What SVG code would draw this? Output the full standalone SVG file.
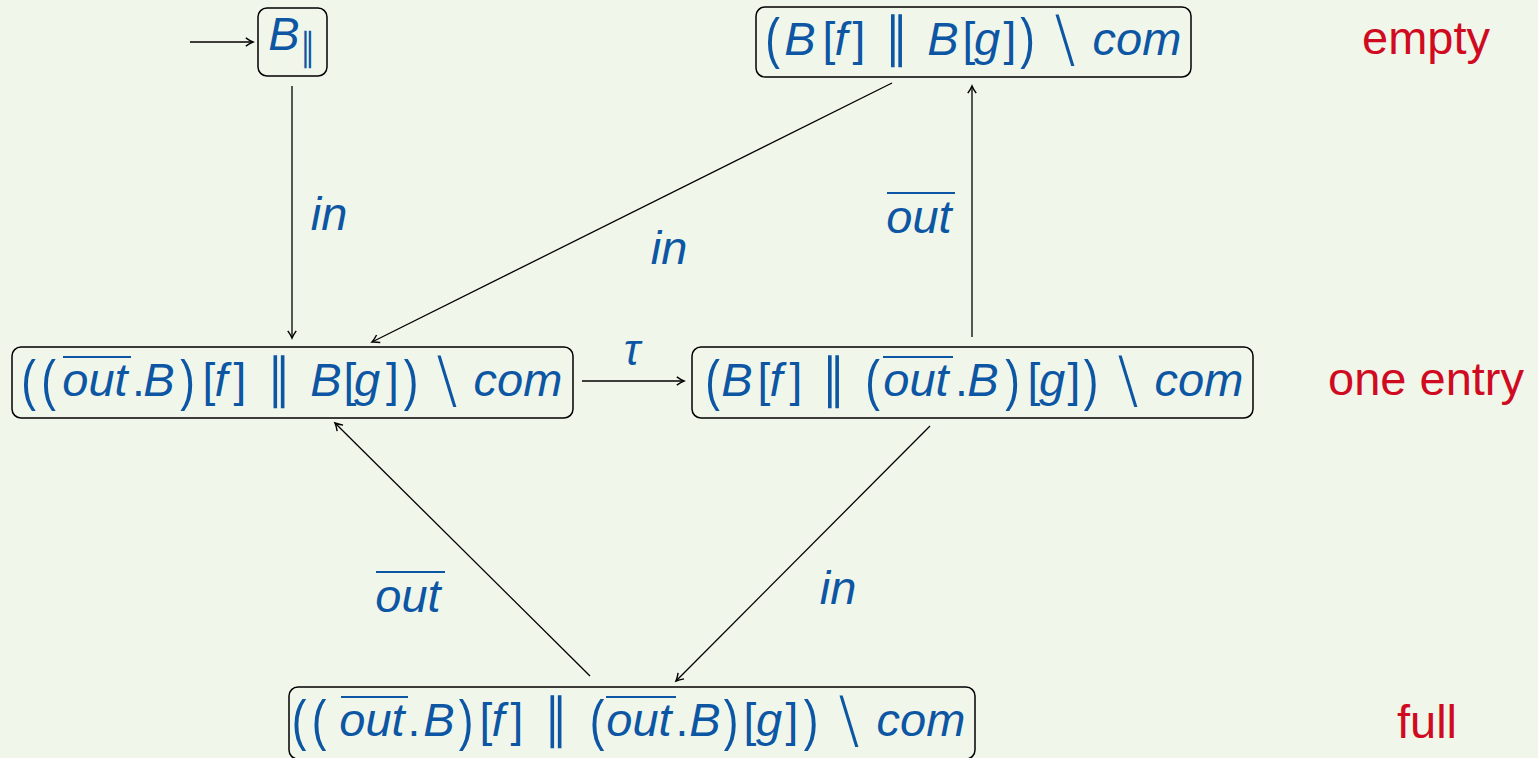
<svg xmlns="http://www.w3.org/2000/svg" width="1538" height="758" viewBox="0 0 1538 758">
<defs>
<marker id="ah" markerWidth="12" markerHeight="12" refX="0" refY="0" viewBox="-8 -5 10 10" orient="auto" markerUnits="userSpaceOnUse">
<path d="M -6 -3.5 Q -2.5 -1 0 0 Q -2.5 1 -6 3.5" fill="none" stroke="#000" stroke-width="1.2"/>
</marker>
<style>
.bg{fill:#f1f6eb}
.box{fill:none;stroke:#000;stroke-width:1.5}
.e{fill:none;stroke:#000;stroke-width:1.3;marker-end:url(#ah)}
text{fill:#0c56a4;text-anchor:middle}
.v{font-family:"Liberation Sans",Arial,sans-serif;font-style:italic;font-size:47px}
.p{font-family:"Liberation Sans",Arial,sans-serif;font-size:44px}
.k{font-family:"Liberation Sans",Arial,sans-serif;font-size:46px}
.s{font-family:"DejaVu Sans",sans-serif;font-weight:200;font-size:62px}
.par{font-family:"DejaVu Sans",sans-serif;font-size:54px}
.ov{stroke:#0c56a4;stroke-width:2}
.lab{font-family:"Liberation Sans",Arial,sans-serif;font-size:47px;fill:#cf0a21}
</style>
</defs>
<rect class="bg" x="0" y="0" width="1538" height="758"/>

<g id="connectors">
<line class="e" x1="190" y1="42" x2="253" y2="42"/>
<line class="e" x1="292" y1="86" x2="292" y2="338"/>
<line class="e" x1="892" y1="83" x2="372" y2="342"/>
<line class="e" x1="972" y1="337" x2="972" y2="86"/>
<line class="e" x1="582" y1="381" x2="684" y2="381"/>
<line class="e" x1="930" y1="426" x2="676" y2="681"/>
<line class="e" x1="590" y1="676" x2="335" y2="423"/>
<text class="v" x="329" y="230">in</text>
<text class="v" x="669" y="264">in</text>
<text class="v" x="919" y="233">out</text><line class="ov" x1="887" y1="193" x2="955" y2="193"/>
<text class="v" x="838" y="604">in</text>
<text class="v" x="408" y="612">out</text><line class="ov" x1="376" y1="572" x2="445" y2="572"/>
<text class="v" x="632" y="365" style="font-size:44px">τ</text>
</g>

<g id="n0">
<rect class="box" x="258" y="8" width="69" height="68" rx="9"/>
<text class="v" x="284" y="50">B</text>
<text class="par" transform="translate(307.5,60) scale(0.75,1)" style="font-size:38px">∥</text>
</g>

<g id="n1">
<rect class="box" x="756" y="7" width="435" height="70" rx="9"/>
<text class="p" transform="translate(772.5,57) scale(1,1.25)">(</text>
<text class="v" x="800" y="55">B</text>
<text class="k" x="829" y="55">[</text>
<text class="v" x="841" y="55">f</text>
<text class="k" x="859" y="55">]</text>
<text class="par" transform="translate(896.5,56) scale(0.85,1)">∥</text>
<text class="v" x="943" y="55">B</text>
<text class="k" x="969" y="55">[</text>
<text class="v" x="987" y="55">g</text>
<text class="k" x="1010" y="55">]</text>
<text class="p" transform="translate(1027.5,57) scale(1,1.25)">)</text>
<text class="s" x="1065" y="60">\</text>
<text class="v" x="1137" y="55">com</text>
</g>

<g id="n2">
<rect class="box" x="12" y="347" width="561" height="71" rx="9"/>
<text class="p" transform="translate(28.5,399) scale(1,1.25)">(</text>
<text class="p" transform="translate(48.5,399) scale(1,1.25)">(</text>
<text class="v" x="95" y="396">out</text><line class="ov" x1="63" y1="357" x2="131" y2="357"/>
<text class="k" x="138.5" y="396">.</text>
<text class="v" x="159" y="396">B</text>
<text class="p" transform="translate(187.5,399) scale(1,1.25)">)</text>
<text class="k" x="209" y="396">[</text>
<text class="v" x="221" y="396">f</text>
<text class="k" x="240" y="396">]</text>
<text class="par" transform="translate(279,397) scale(0.85,1)">∥</text>
<text class="v" x="326" y="396">B</text>
<text class="k" x="350" y="396">[</text>
<text class="v" x="367" y="396">g</text>
<text class="k" x="392.5" y="396">]</text>
<text class="p" transform="translate(411,399) scale(1,1.25)">)</text>
<text class="s" x="447" y="401">\</text>
<text class="v" x="518" y="396">com</text>
</g>

<g id="n3">
<rect class="box" x="692" y="347" width="561" height="71" rx="9"/>
<text class="p" transform="translate(712.5,399) scale(1,1.25)">(</text>
<text class="v" x="737" y="396">B</text>
<text class="k" x="764" y="396">[</text>
<text class="v" x="776" y="396">f</text>
<text class="k" x="796" y="396">]</text>
<text class="par" transform="translate(833.5,397) scale(0.85,1)">∥</text>
<text class="p" transform="translate(872.5,399) scale(1,1.25)">(</text>
<text class="v" x="916" y="396">out</text><line class="ov" x1="883" y1="357" x2="953" y2="357"/>
<text class="k" x="961.5" y="396">.</text>
<text class="v" x="983" y="396">B</text>
<text class="p" transform="translate(1012.5,399) scale(1,1.25)">)</text>
<text class="k" x="1034" y="396">[</text>
<text class="v" x="1052" y="396">g</text>
<text class="k" x="1074" y="396">]</text>
<text class="p" transform="translate(1091,399) scale(1,1.25)">)</text>
<text class="s" x="1128" y="401">\</text>
<text class="v" x="1199" y="396">com</text>
</g>

<g id="n4">
<rect class="box" x="289" y="687" width="686" height="72" rx="9"/>
<text class="p" transform="translate(299,739) scale(1,1.25)">(</text>
<text class="p" transform="translate(319,739) scale(1,1.25)">(</text>
<text class="v" x="372" y="736">out</text><line class="ov" x1="341" y1="697" x2="408" y2="697"/>
<text class="k" x="414" y="736">.</text>
<text class="v" x="439" y="736">B</text>
<text class="p" transform="translate(466,739) scale(1,1.25)">)</text>
<text class="k" x="486" y="736">[</text>
<text class="v" x="498" y="736">f</text>
<text class="k" x="517" y="736">]</text>
<text class="par" transform="translate(556,737) scale(0.85,1)">∥</text>
<text class="p" transform="translate(597,739) scale(1,1.25)">(</text>
<text class="v" x="639" y="736">out</text><line class="ov" x1="606" y1="697" x2="676" y2="697"/>
<text class="k" x="682" y="736">.</text>
<text class="v" x="705" y="736">B</text>
<text class="p" transform="translate(731,739) scale(1,1.25)">)</text>
<text class="k" x="750" y="736">[</text>
<text class="v" x="769" y="736">g</text>
<text class="k" x="792" y="736">]</text>
<text class="p" transform="translate(811,739) scale(1,1.25)">)</text>
<text class="s" x="849" y="741">\</text>
<text class="v" x="921" y="736">com</text>
</g>

<g id="labels">
<text class="lab" x="1426" y="54">empty</text>
<text class="lab" x="1426" y="395">one entry</text>
<text class="lab" x="1427" y="738">full</text>
</g>
</svg>
